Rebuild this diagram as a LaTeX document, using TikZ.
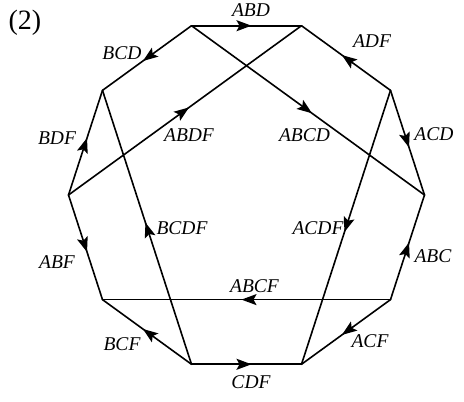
\documentclass[tikz,border=0pt]{standalone}
\usepackage{fontspec}
\setmainfont{Liberation Serif}
\usetikzlibrary{arrows.meta,decorations.markings}

\begin{document}
\begin{tikzpicture}[
    x=1pt, y=1pt,
    edge/.style={line width=1.6pt, line cap=round, postaction={decorate},
        decoration={markings, mark=at position 0.5 with {\arrow[xshift=5pt]{Stealth[length=15pt,width=11pt,inset=3pt]}}}},
    lbl/.style={font=\fontsize{19.5}{22}\selectfont\itshape, inner sep=0pt}
]
\useasboundingbox (-246.5,-207) rectangle (217.5,195);

% decagon corners
\foreach \i in {0,...,9}
    \coordinate (v\i) at (36*\i:178);

\node[font=\fontsize{28}{32}\selectfont] (tag) at (-221.5,172) {(2)};

% sides
\draw[edge] (v3) -- (v2);
\draw[edge] (v1) -- (v2);
\draw[edge] (v1) -- (v0);
\draw[edge] (v9) -- (v0);
\draw[edge] (v9) -- (v8);
\draw[edge] (v7) -- (v8);
\draw[edge] (v7) -- (v6);
\draw[edge] (v5) -- (v6);
\draw[edge] (v5) -- (v4);
\draw[edge] (v3) -- (v4);

% diagonals
\draw[edge] (v3) -- (v0);
\draw[edge] (v5) -- (v2);
\draw[edge] (v1) -- (v8);
\draw[edge] (v7) -- (v4);
\draw[edge] (v9) -- (v6);

\node[lbl] (abd) at (4.5,185) {ABD};
\node[lbl] (adf) at (125.5,154) {ADF};
\node[lbl] (acd) at (187.5,61) {ACD};
\node[lbl] (abcd) at (58,60) {ABCD};
\node[lbl] (bcd) at (-124.5,142) {BCD};
\node[lbl] (abdf) at (-57.5,60) {ABDF};
\node[lbl] (bdf) at (-189.5,57) {BDF};
\node[lbl] (bcdf) at (-64.5,-33) {BCDF};
\node[lbl] (abf) at (-189.5,-67) {ABF};
\node[lbl] (bcf) at (-124.5,-149) {BCF};
\node[lbl] (acdf) at (71.5,-33) {ACDF};
\node[lbl] (abc) at (186.5,-61) {ABC};
\node[lbl] (abcf) at (8,-91) {ABCF};
\node[lbl] (acf) at (123.5,-146) {ACF};
\node[lbl] (cdf) at (4.5,-187) {CDF};
\end{tikzpicture}
\end{document}
